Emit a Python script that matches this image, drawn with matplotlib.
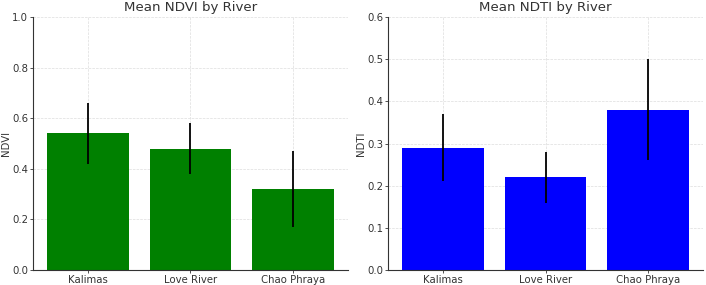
import matplotlib
matplotlib.use("Agg")
import matplotlib.pyplot as plt

rivers = ["Kalimas", "Love River", "Chao Phraya"]
ndvi_mean = [0.54, 0.48, 0.32]
ndvi_err = [0.12, 0.10, 0.15]
ndti_mean = [0.29, 0.22, 0.38]
ndti_err = [0.08, 0.06, 0.12]

fig = plt.figure(figsize=(7.06, 2.85), dpi=100)
ax1 = fig.add_axes([33/706, 15/285, 315/706, 253/285])
ax2 = fig.add_axes([388/706, 15/285, 315/706, 253/285])

def style(ax, title, ylabel, ylim, ticks):
    ax.set_title(title, fontsize=9.6, color="#333333", pad=4)
    ax.set_ylabel(ylabel, fontsize=7.3, color="#333333", labelpad=1)
    ax.set_ylim(*ylim)
    ax.set_yticks(ticks)
    ax.set_yticklabels([f"{t:.1f}" for t in ticks])
    ax.tick_params(labelsize=7.3, colors="#333333", length=2, width=0.6, pad=1.5)
    ax.grid(True, linestyle="--", linewidth=0.5, color="#dddddd")
    ax.set_axisbelow(True)
    for s in ["top", "right"]:
        ax.spines[s].set_visible(False)
    for s in ["left", "bottom"]:
        ax.spines[s].set_color("#333333")
        ax.spines[s].set_linewidth(0.8)

ax1.bar(rivers, ndvi_mean, yerr=ndvi_err, color="#008000", width=0.8, ecolor="black", error_kw=dict(elinewidth=1.3))
style(ax1, "Mean NDVI by River", "NDVI", (0, 1.0), [0.0, 0.2, 0.4, 0.6, 0.8, 1.0])

ax2.bar(rivers, ndti_mean, yerr=ndti_err, color="#0000ff", width=0.8, ecolor="black", error_kw=dict(elinewidth=1.3))
style(ax2, "Mean NDTI by River", "NDTI", (0, 0.6), [0.0, 0.1, 0.2, 0.3, 0.4, 0.5, 0.6])

fig.savefig("out.png", dpi=100)
